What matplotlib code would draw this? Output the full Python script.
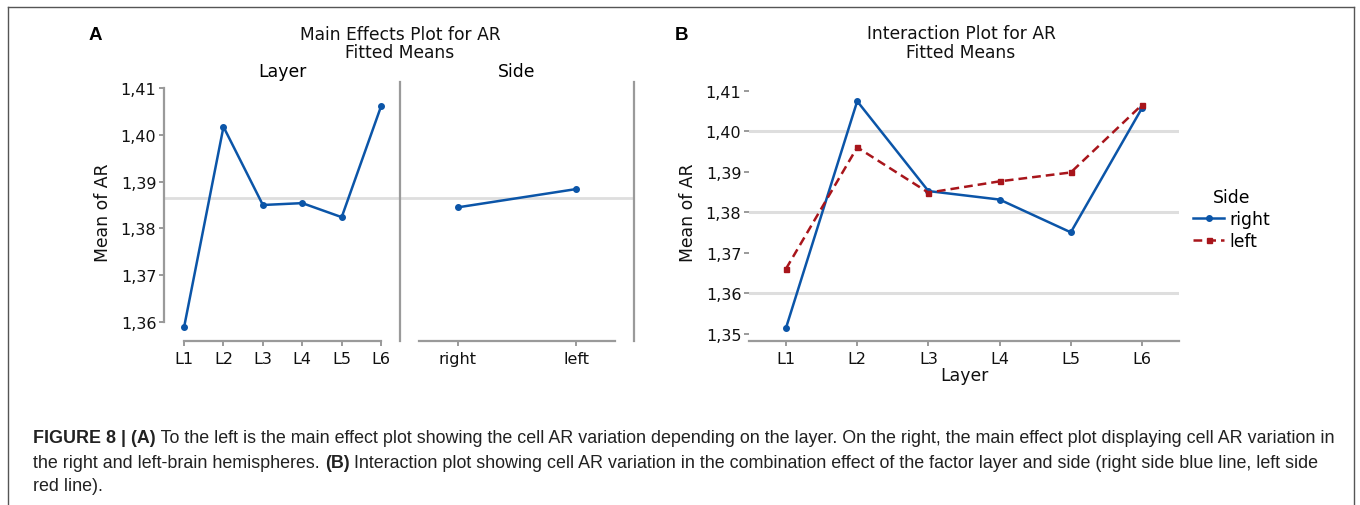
import matplotlib
matplotlib.use("Agg")
import matplotlib.pyplot as plt
from matplotlib.lines import Line2D
from matplotlib.ticker import FuncFormatter, FixedLocator

# ---------------- data ----------------
layers = ["L1", "L2", "L3", "L4", "L5", "L6"]
layer_means = [1.3589, 1.4017, 1.3850, 1.3854, 1.3824, 1.4061]
sides = ["right", "left"]
side_means = [1.3845, 1.3884]
grand_mean = 1.3864
inter_right = [1.3514, 1.4074, 1.3852, 1.3831, 1.3750, 1.4057]
inter_left = [1.3660, 1.3960, 1.3848, 1.3876, 1.3898, 1.4065]
ticks_a = [1.36, 1.37, 1.38, 1.39, 1.40, 1.41]
ticks_b = [1.35, 1.36, 1.37, 1.38, 1.39, 1.40, 1.41]
grid_b = [1.36, 1.38, 1.40]

W, H = 1360, 506
BLUE = "#0b55a8"
RED = "#a8151b"
SPINE = "#9a9a9a"
GRID = "#dedede"

plt.rcParams["font.family"] = ["DejaVu Sans"]
fig = plt.figure(figsize=(W / 100, H / 100), dpi=100)


def ax_at(x0, x1, ytop, ybot):
    return fig.add_axes([x0 / W, 1 - ybot / H, (x1 - x0) / W, (ybot - ytop) / H])


comma = FuncFormatter(lambda v, p: f"{v:.2f}".replace(".", ","))

# ---------------- Panel A: Side (drawn first so divider sits on top) -------
axS = ax_at(400, 634, 83, 342)
axS.patch.set_visible(False)
xs = list(range(len(sides)))
axS.axhline(grand_mean, color=GRID, lw=2, zorder=1)
axS.plot(xs, side_means, color=BLUE, lw=1.8, marker="o", ms=4, zorder=3)
axS.set_xlim(-0.49, 1.49)
axS.set_ylim(1.35594, 1.41128)
axS.set_xticks(xs)
axS.set_xticklabels(sides)
axS.set_yticks([])
axS.spines["top"].set_visible(False)
axS.spines["left"].set_visible(False)
axS.spines["bottom"].set_bounds(-0.333, 1.333)
for s in ["bottom", "right"]:
    axS.spines[s].set_color(SPINE)
    axS.spines[s].set_linewidth(1.6)
axS.tick_params(colors=SPINE, labelcolor="#111111", width=1.4, length=3.5,
                labelsize=11.5)
axS.set_title("Side", fontsize=12.4, pad=4)

# ---------------- Panel A: Layer ----------------
axL = ax_at(164, 400, 83, 342)
axL.patch.set_visible(False)
xl = list(range(1, len(layers) + 1))
axL.axhline(grand_mean, color=GRID, lw=2, zorder=1)
axL.plot(xl, layer_means, color=BLUE, lw=1.8, marker="o", ms=4, zorder=3)
axL.set_xlim(0.49, 6.48)
axL.set_ylim(1.35594, 1.41128)
axL.set_xticks(xl)
axL.set_xticklabels(layers)
axL.yaxis.set_major_locator(FixedLocator(ticks_a))
axL.yaxis.set_major_formatter(comma)
axL.spines["top"].set_visible(False)
axL.spines["left"].set_bounds(ticks_a[0], ticks_a[-1])
axL.spines["bottom"].set_bounds(1, 6)
for s in ["left", "bottom", "right"]:
    axL.spines[s].set_color(SPINE)
    axL.spines[s].set_linewidth(1.6)
axL.tick_params(colors=SPINE, labelcolor="#111111", width=1.4, length=3.5,
                labelsize=11.5)
axL.tick_params(axis="y", pad=2)
axL.set_ylabel("Mean of AR", fontsize=12.4, color="#111111", labelpad=6)
axL.set_title("Layer", fontsize=12.4, pad=4)

fig.text(400 / W, 1 - 35 / H, "Main Effects Plot for AR", ha="center", va="center",
         fontsize=12.3, color="#111111")
fig.text(400 / W, 1 - 53 / H, "Fitted Means", ha="center", va="center",
         fontsize=12.3, color="#111111")
fig.text(95 / W, 1 - 36 / H, "A", ha="center", va="center", fontsize=13.5,
         fontweight="bold", family=["Liberation Sans", "DejaVu Sans"])

# ---------------- Panel B: Interaction ----------------
axB = ax_at(749, 1179, 83, 342)
for g in grid_b:
    axB.axhline(g, color=GRID, lw=2.2, zorder=1)
axB.plot(xl, inter_right, color=BLUE, lw=1.8, marker="o", ms=4, zorder=3,
         label="right")
axB.plot(xl, inter_left, color=RED, lw=1.8, ls=(0, (3.5, 2)), marker="s", ms=3.6,
         zorder=3, label="left")
axB.set_xlim(0.48, 6.52)
axB.set_ylim(1.34815, 1.41215)
axB.set_xticks(xl)
axB.set_xticklabels(layers)
axB.yaxis.set_major_locator(FixedLocator(ticks_b))
axB.yaxis.set_major_formatter(comma)
for s in ["top", "left", "right"]:
    axB.spines[s].set_visible(False)
axB.spines["bottom"].set_color(SPINE)
axB.spines["bottom"].set_linewidth(1.6)
axB.tick_params(colors=SPINE, labelcolor="#111111", width=1.4, length=3.5,
                labelsize=11.5)
axB.tick_params(axis="y", pad=2)
axB.set_ylabel("Mean of AR", fontsize=12.4, color="#111111", labelpad=6)
axB.set_xlabel("Layer", fontsize=12.4, color="#111111", labelpad=0)
leg = axB.legend(title="Side", loc="upper left",
                 bbox_to_anchor=(1193 / W, 1 - 189 / H),
                 bbox_transform=fig.transFigure, frameon=False, fontsize=12.4,
                 title_fontsize=12.4, borderpad=0, borderaxespad=0,
                 handlelength=1.8, handletextpad=0.3, labelspacing=0.22)

fig.text(961 / W, 1 - 34 / H, "Interaction Plot for AR", ha="center", va="center",
         fontsize=12.3, color="#111111")
fig.text(961 / W, 1 - 53 / H, "Fitted Means", ha="center", va="center",
         fontsize=12.3, color="#111111")
fig.text(682 / W, 1 - 36 / H, "B", ha="center", va="center", fontsize=13.5,
         fontweight="bold", family=["Liberation Sans", "DejaVu Sans"])

# ---------------- frame ----------------
fc = "#555555"
fig.add_artist(Line2D([8 / W, 1354 / W], [1 - 8 / H, 1 - 8 / H],
                      transform=fig.transFigure, color=fc, lw=1))
fig.add_artist(Line2D([8 / W, 8 / W], [1 - 8 / H, 0],
                      transform=fig.transFigure, color=fc, lw=1))
fig.add_artist(Line2D([1354 / W, 1354 / W], [1 - 8 / H, 0],
                      transform=fig.transFigure, color=fc, lw=1))

# ---------------- caption ----------------
cap_lines = [
    [("FIGURE 8 | (A)", "bold"),
     (" To the left is the main effect plot showing the cell AR variation depending on the layer. "
      "On the right, the main effect plot displaying cell AR variation in", "normal")],
    [("the right and left-brain hemispheres. ", "normal"), ("(B)", "bold"),
     (" Interaction plot showing cell AR variation in the combination effect of the factor "
      "layer and side (right side blue line, left side", "normal")],
    [("red line).", "normal")],
]
cap_y = [439, 463, 487]
cap_fs = 12.85
renderer = fig.canvas.get_renderer()
for segs, yy in zip(cap_lines, cap_y):
    x = 33.0
    for txt, wt in segs:
        t = fig.text(x / W, 1 - yy / H, txt, ha="left", va="center", fontsize=cap_fs,
                     fontweight=wt, color="#222222",
                     family=["Liberation Sans", "DejaVu Sans"])
        bb = t.get_window_extent(renderer)
        x += bb.width

fig.savefig("out.png", dpi=100)
